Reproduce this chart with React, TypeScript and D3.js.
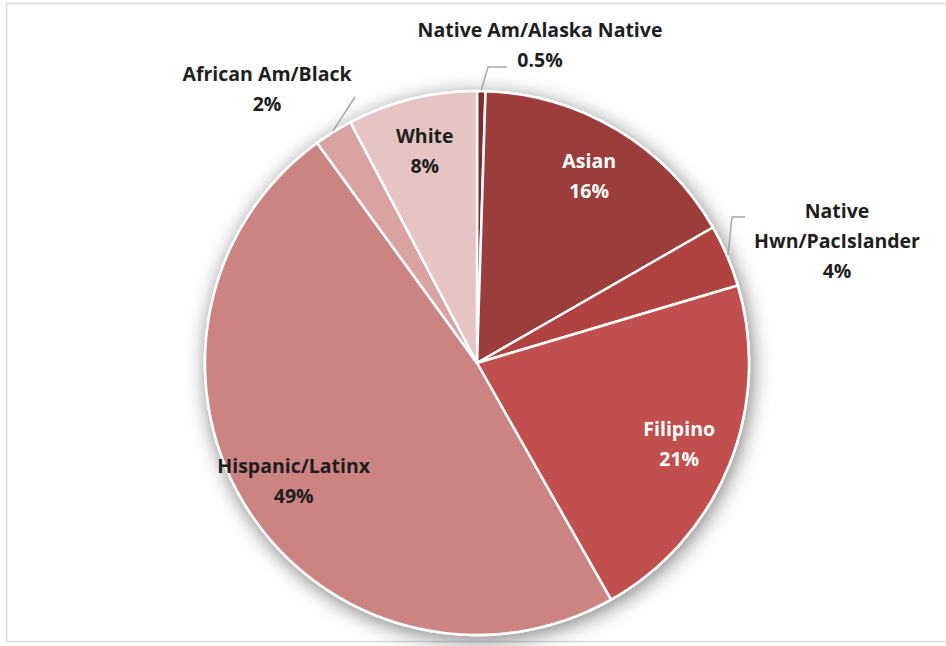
import React from "react";
import * as d3 from "d3";

const categories = [
  "Native Am/Alaska Native",
  "Asian",
  "Native Hwn/PacIslander",
  "Filipino",
  "Hispanic/Latinx",
  "African Am/Black",
  "White",
];
const values = [0.5, 16.2, 3.7, 21.4, 48.2, 2.3, 7.7];
const labelLines = [
  ["Native Am/Alaska Native", "0.5%"],
  ["Asian", "16%"],
  ["Native", "Hwn/PacIslander", "4%"],
  ["Filipino", "21%"],
  ["Hispanic/Latinx", "49%"],
  ["African Am/Black", "2%"],
  ["White", "8%"],
];
const colors = ["#862c2b", "#9a3c3b", "#b04341", "#c0504d", "#cc8482", "#d9a3a2", "#e5c4c3"];

// label layout (not data): inside labels use centroid; outside labels are offset from center
const W = 946;
const H = 646;
const cx = 477;
const cy = 363;
const R = 272;
const outside: Record<string, { dx: number; dy: number; elbow?: [number, number][] }> = {
  "Native Am/Alaska Native": { dx: 63, dy: -318, elbow: [[11, -296], [30, -296]] },
  "African Am/Black": { dx: -210, dy: -274, elbow: [[-122, -266]] },
  "Native Hwn/PacIslander": { dx: 360, dy: -122, elbow: [[255, -146], [268, -146]] },
};
const insideR = 218;
const lineH = 30;
const textDark = "#1e1e1e";
const whiteText = new Set(["Asian", "Filipino"]);

export default function App() {
  const pie = d3
    .pie<number>()
    .value((d) => d)
    .sort(null)
    .startAngle(0)
    .endAngle(2 * Math.PI);
  const arcs = pie(values);
  const arc = d3.arc<d3.PieArcDatum<number>>().innerRadius(0).outerRadius(R);
  const labelArc = d3.arc<d3.PieArcDatum<number>>().innerRadius(insideR).outerRadius(insideR);
  const edgeArc = d3.arc<d3.PieArcDatum<number>>().innerRadius(R + 1).outerRadius(R + 1);

  return (
    <div style={{ position: "fixed", left: 0, top: 0 }}>
      <svg width={W} height={H} style={{ display: "block", fontFamily: "'Open Sans', sans-serif" }}>
        <defs>
          <filter id="shadow" x="-20%" y="-20%" width="140%" height="140%">
            <feGaussianBlur in="SourceAlpha" stdDeviation="10" />
            <feOffset dx="2" dy="4" result="blur" />
            <feComponentTransfer>
              <feFuncA type="linear" slope="0.5" />
            </feComponentTransfer>
            <feMerge>
              <feMergeNode />
              <feMergeNode in="SourceGraphic" />
            </feMerge>
          </filter>
        </defs>
        <rect x={0} y={0} width={W} height={H} fill="#ffffff" />
        <rect x={6.5} y={3.5} width={W + 10} height={638} fill="#ffffff" stroke="#d9d9d9" strokeWidth={1.5} />
        <g transform={`translate(${cx},${cy})`}>
          <g filter="url(#shadow)">
            {arcs.map((a, i) => (
              <path key={categories[i]} d={arc(a) || ""} fill={colors[i]} stroke="#ffffff" strokeWidth={2.5} strokeLinejoin="round" />
            ))}
          </g>
          {arcs.map((a, i) => {
            const name = categories[i];
            const lines = labelLines[i];
            const o = outside[name];
            let x: number, y: number;
            let leader: string | null = null;
            if (o) {
              x = o.dx;
              y = o.dy;
              const [ex, ey] = edgeArc.centroid(a);
              const pts: [number, number][] = [[ex, ey], ...(o.elbow || [])];
              leader = d3.line()(pts);
            } else {
              [x, y] = labelArc.centroid(a);
            }
            const fill = whiteText.has(name) ? "#ffffff" : textDark;
            const y0 = y - ((lines.length - 1) * lineH) / 2;
            return (
              <g key={name}>
                {leader && <path d={leader} fill="none" stroke="#a6a6a6" strokeWidth={1.5} />}
                <text textAnchor="middle" fontSize={19.5} fontWeight={700} fill={fill}>
                  {lines.map((t, j) => (
                    <tspan key={j} x={x} y={y0 + j * lineH} dy="0.35em">
                      {t}
                    </tspan>
                  ))}
                </text>
              </g>
            );
          })}
        </g>
      </svg>
    </div>
  );
}
